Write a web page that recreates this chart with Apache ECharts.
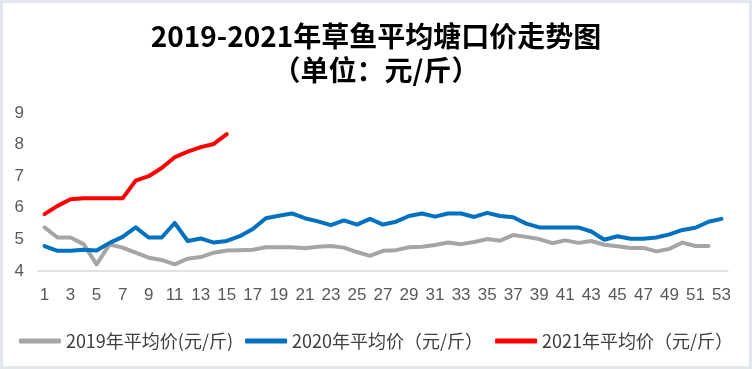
<!DOCTYPE html>
<html><head><meta charset="utf-8">
<script src="https://cdn.jsdelivr.net/npm/echarts@6/dist/echarts.min.js"></script>
<style>html,body{margin:0;padding:0;background:#fff}#c{width:752px;height:369px;box-sizing:border-box;border:3px solid #e3e6ea}</style>
</head><body><div id="c"></div>
<script>
var weeks = [];
for (var i = 1; i <= 53; i++) weeks.push(String(i));
var titleText = '2019-2021年草鱼平均塘口价走势图\n（单位：元/斤）';
var names = ['2019年平均价(元/斤)', '2020年平均价（元/斤）', '2021年平均价（元/斤）'];
var s2019 = [5.38,5.06,5.06,4.85,4.21,4.84,4.74,4.58,4.42,4.35,4.21,4.39,4.44,4.58,4.65,4.66,4.67,4.75,4.75,4.75,4.72,4.77,4.79,4.74,4.6,4.48,4.64,4.66,4.75,4.77,4.82,4.9,4.85,4.92,5.01,4.96,5.14,5.08,5.01,4.88,4.97,4.89,4.95,4.83,4.78,4.73,4.73,4.62,4.7,4.9,4.79,4.79,null];
var s2020 = [4.79,4.64,4.64,4.67,4.65,4.89,5.08,5.38,5.06,5.06,5.52,4.95,5.03,4.9,4.95,5.1,5.33,5.67,5.75,5.82,5.67,5.57,5.45,5.6,5.47,5.65,5.47,5.56,5.74,5.82,5.72,5.82,5.82,5.71,5.84,5.74,5.7,5.5,5.38,5.38,5.38,5.38,5.25,4.99,5.1,5.02,5.02,5.06,5.16,5.3,5.37,5.56,5.65];
var s2021 = [5.8,6.06,6.27,6.3,6.3,6.3,6.3,6.86,7.0,7.26,7.6,7.78,7.92,8.02,8.33];
var colors = ['#A5A5A5', '#0070C0', '#FF0000'];
var chart = echarts.init(document.getElementById('c'));
function mk(n, d, c) {
  return {name: n, type: 'line', data: d, symbol: 'none', showSymbol: false,
    lineStyle: {width: 4, color: c, cap: 'round', join: 'round'}, itemStyle: {color: c}};
}
chart.setOption({
  animation: false,
  title: {text: titleText, left: 'center', top: 11,
    textStyle: {fontFamily: 'Noto Sans CJK SC', fontSize: 28, fontWeight: 'bold', color: '#000', lineHeight: 34}},
  legend: {bottom: 11, left: 'center', itemWidth: 42, itemHeight: 5, itemGap: 12, icon: 'roundRect',
    textStyle: {fontFamily: 'Noto Sans CJK SC', fontSize: 18, color: '#404040'},
    data: names},
  grid: {left: 35, right: 21, top: 110, bottom: 95},
  xAxis: {type: 'category', data: weeks, boundaryGap: true,
    axisLine: {lineStyle: {color: '#d9d9d9', width: 1.5}}, axisTick: {show: false},
    axisLabel: {interval: 1, color: '#595959', fontSize: 17, fontFamily: 'Liberation Sans', margin: 16}},
  yAxis: {type: 'value', min: 4, max: 9, interval: 1,
    axisLine: {show: false}, axisTick: {show: false}, splitLine: {show: false},
    axisLabel: {color: '#595959', fontSize: 17, fontFamily: 'Liberation Sans', margin: 14}},
  series: [mk(names[0], s2019, colors[0]), mk(names[1], s2020, colors[1]), mk(names[2], s2021, colors[2])]
});
</script></body></html>
